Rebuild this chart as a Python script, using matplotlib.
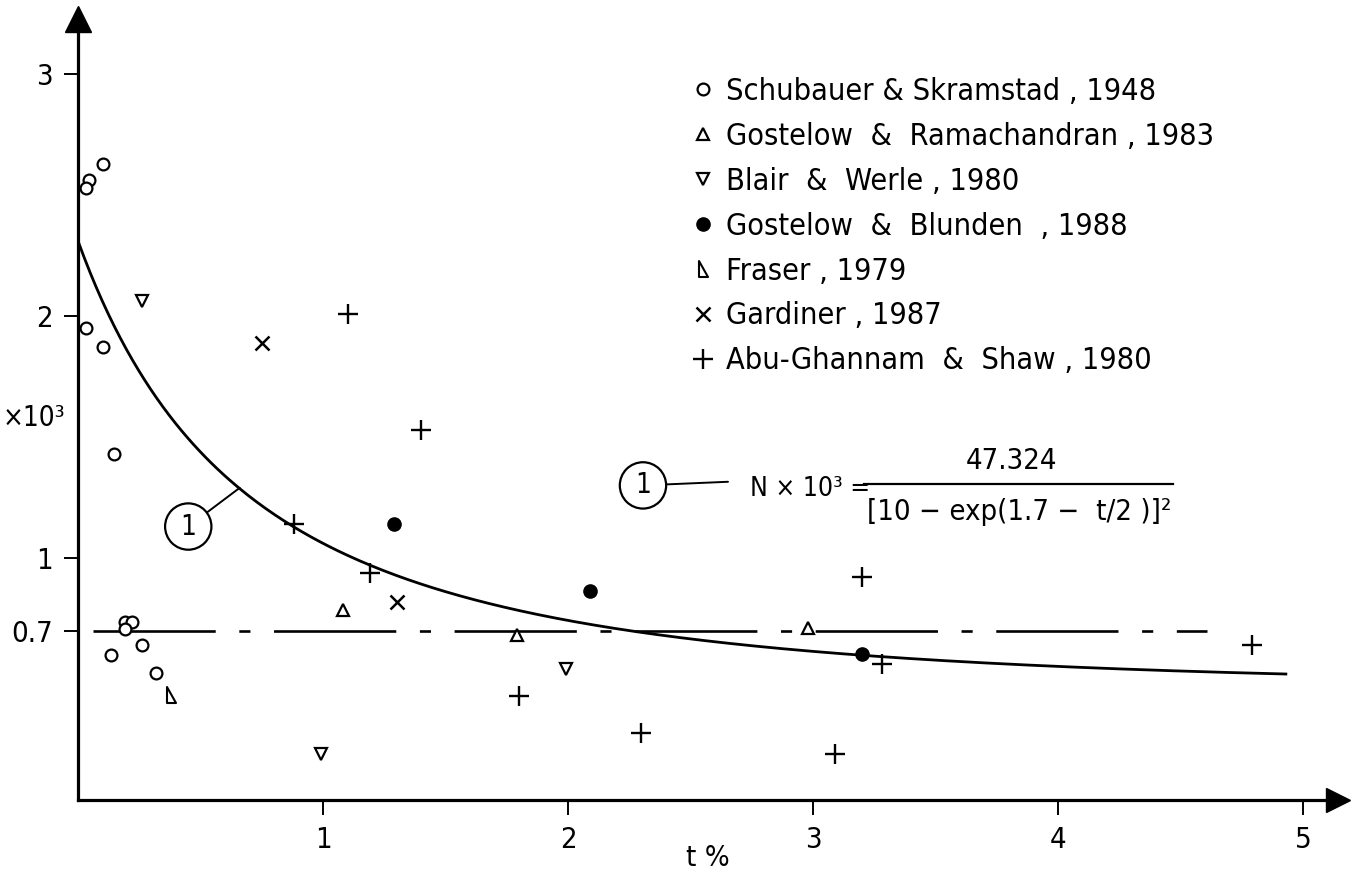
import numpy as np
import matplotlib
matplotlib.use("Agg")
import matplotlib.pyplot as plt
from matplotlib import font_manager
from matplotlib.path import Path

# ---------------- data ----------------
schubauer_t = [0.10, 0.045, 0.033, 0.033, 0.10, 0.147, 0.19, 0.22, 0.19, 0.135, 0.26, 0.32]
schubauer_n = [2.63, 2.56, 2.53, 1.95, 1.87, 1.43, 0.735, 0.735, 0.705, 0.60, 0.64, 0.525]

ramachandran_t = [1.08, 1.79, 2.98]
ramachandran_n = [0.785, 0.68, 0.71]

blair_t = [0.26, 0.99, 1.99]
blair_n = [2.06, 0.19, 0.54]

blunden_t = [1.29, 2.09, 3.20]
blunden_n = [1.14, 0.865, 0.605]

fraser_t = [0.38]
fraser_n = [0.434]

gardiner_t = [0.75, 1.30]
gardiner_n = [1.89, 0.82]

abu_t = [1.10, 1.40, 1.19, 0.88, 3.20, 1.80, 2.30, 3.09, 3.28, 4.79]
abu_n = [2.01, 1.53, 0.94, 1.14, 0.92, 0.43, 0.275, 0.19, 0.56, 0.64]

labels = ["Schubauer & Skramstad , 1948",
          "Gostelow  &  Ramachandran , 1983",
          "Blair  &  Werle , 1980",
          "Gostelow  &  Blunden  , 1988",
          "Fraser , 1979",
          "Gardiner , 1987",
          "Abu-Ghannam  &  Shaw , 1980"]

# correlation (1):  N x 10^3 = A / [10 - exp(B - t/2)]^2
corr_A = 47.324
corr_B = 1.7
corr_tmax = 4.93

ref_level = 0.7
ref_t = [0.06, 4.61]

x_ticks = [1, 2, 3, 4, 5]
y_ticks = [0.7, 1, 2, 3]
y_ticklabels = ["0.7", "1", "2", "3"]

# ---------------- font ----------------
fm = font_manager.fontManager
names = {f.name for f in fm.ttflist}
if "Liberation Sans Narrow" in names:
    fam = "Liberation Sans Narrow"
    stretch = "normal"
elif any(f.name == "DejaVu Sans" and f.stretch == "condensed" for f in fm.ttflist):
    fam = "DejaVu Sans"
    stretch = "condensed"
else:
    fam = "DejaVu Sans"
    stretch = "normal"
plt.rcParams["font.family"] = [fam, "DejaVu Sans"]
plt.rcParams["font.stretch"] = stretch
plt.rcParams["lines.scale_dashes"] = False

W, H = 1357, 884
fig = plt.figure(figsize=(W / 100, H / 100), dpi=100)
x0, y0 = 78, 800          # origin pixel
xr, yt = 1338, 19         # arrow tips (centre of arrow heads)
ax = fig.add_axes([x0 / W, (H - y0) / H, (xr - x0) / W, (y0 - yt) / H])
ax.set_xlim(0, (xr - x0) / 245.0)
ax.set_ylim(0, (y0 - yt) / 242.0)

for s in ("top", "right"):
    ax.spines[s].set_visible(False)
for s in ("left", "bottom"):
    ax.spines[s].set_linewidth(2.3)
ax.plot(1, 0, ">", color="k", ms=17, transform=ax.transAxes, clip_on=False)
ax.plot(0, 1, "^", color="k", ms=19, transform=ax.transAxes, clip_on=False)

ax.set_xticks(x_ticks)
ax.set_xticklabels([str(v) for v in x_ticks])
ax.set_yticks(y_ticks)
ax.set_yticklabels(y_ticklabels)
ax.tick_params(axis="x", direction="out", length=11, width=1.4, pad=8, labelsize=21)
ax.tick_params(axis="y", direction="out", length=10, width=1.4, pad=8, labelsize=21)

# correlation curve
tc = np.linspace(0, corr_tmax, 400)
nc = corr_A / (10 - np.exp(corr_B - tc / 2)) ** 2
ax.plot(tc, nc, color="k", lw=2.0, zorder=2)

# reference level
ax.plot(ref_t, [ref_level, ref_level], color="k", lw=1.9,
        ls=(0, (88, 17, 8, 17)), zorder=2)

# data markers
fraser_marker = Path([(-0.45, 1.0), (-0.45, -1.0), (0.55, -1.0), (-0.45, 1.0)],
                     [Path.MOVETO, Path.LINETO, Path.LINETO, Path.CLOSEPOLY])
kw = dict(ls="none", color="k", zorder=3)
ax.plot(schubauer_t, schubauer_n, marker="o", ms=8.5, mfc="white", mec="k", mew=1.6, label=labels[0], **kw)
ax.plot(ramachandran_t, ramachandran_n, marker="^", ms=8.5, mfc="white", mec="k", mew=1.6, label=labels[1], **kw)
ax.plot(blair_t, blair_n, marker="v", ms=8.5, mfc="white", mec="k", mew=1.6, label=labels[2], **kw)
ax.plot(blunden_t, blunden_n, marker="o", ms=9.5, mfc="k", mec="k", label=labels[3], **kw)
ax.plot(fraser_t, fraser_n, marker=fraser_marker, ms=12, mfc="white", mec="k", mew=1.5, label=labels[4], **kw)
ax.plot(gardiner_t, gardiner_n, marker="x", ms=10.5, mew=1.8, label=labels[5], **kw)
ax.plot(abu_t, abu_n, marker="+", ms=14, mew=1.7, label=labels[6], **kw)

leg = ax.legend(loc="upper left", bbox_to_anchor=(694 / W, 1 - 77 / H),
                bbox_transform=fig.transFigure, frameon=False, fontsize=22,
                handlelength=0.6, handletextpad=0.45, labelspacing=0.52,
                borderpad=0, borderaxespad=0, markerscale=1.0)

# annotation (1) on the curve
ax.annotate("1", xy=(0.66, 1.29), xytext=(0.45, 1.13), ha="center", va="center",
            fontsize=20,
            bbox=dict(boxstyle="circle,pad=0.33", fc="white", ec="k", lw=1.6),
            arrowprops=dict(arrowstyle="-", lw=1.4, color="k", shrinkA=0, shrinkB=0))

# equation
ax.annotate("1", xy=(2.653, 1.315), xytext=(2.306, 1.30), ha="center", va="center",
            fontsize=20,
            bbox=dict(boxstyle="circle,pad=0.33", fc="white", ec="k", lw=1.6),
            arrowprops=dict(arrowstyle="-", lw=1.4, color="k", shrinkA=0, shrinkB=0))
ax.text(2.743, 1.285, "N × 10³ =", ha="left", va="center", fontsize=19)
ax.plot([3.21, 4.47], [1.305, 1.305], color="k", lw=1.6)
ax.text(3.812, 1.40, "47.324", ha="center", va="center", fontsize=21)
ax.text(3.84, 1.19, "[10 − exp(1.7 −  t/2 )]²", ha="center", va="center", fontsize=21)

# axis labels
ax.xaxis.set_label_coords((478 - x0) / (xr - x0), -(858 - y0) / (y0 - yt))
ax.set_xlabel("t %", fontsize=21, va="center")
fig.text(3 / W, 1 - 418 / H, "×10³", ha="left", va="center", fontsize=20)

fig.savefig("out.png", dpi=100)
